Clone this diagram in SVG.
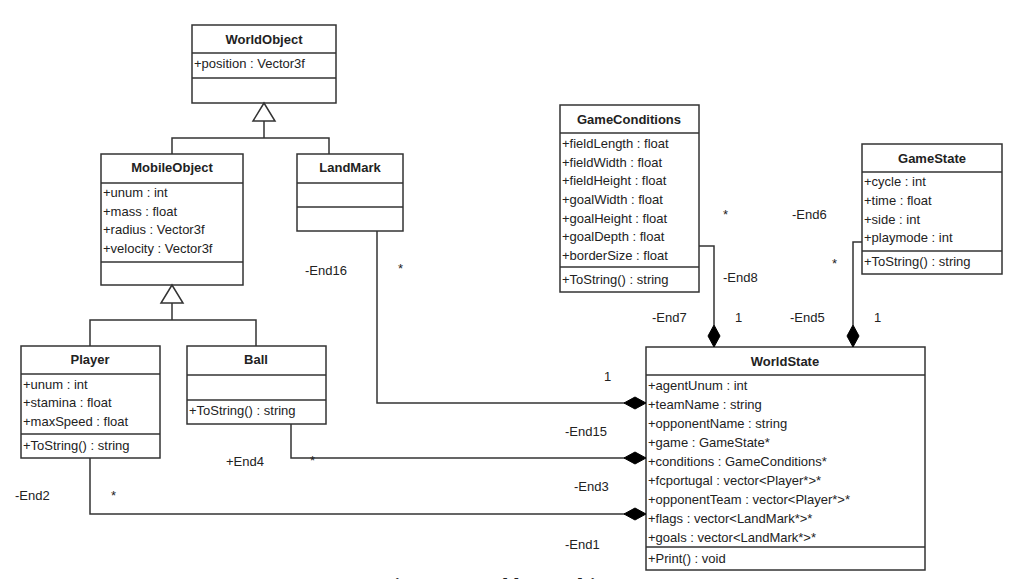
<svg xmlns="http://www.w3.org/2000/svg" width="1020" height="579" viewBox="0 0 1020 579">
<style>
rect{fill:#fff;stroke:#333;stroke-width:1.5}
line,polyline{stroke:#333;stroke-width:1.5;fill:none}
text{font-family:"Liberation Sans",Arial,sans-serif;font-size:13px;fill:#222}
.t{font-weight:bold;text-anchor:middle}
.tri{fill:#fff;stroke:#333;stroke-width:1.5}
.dia{fill:#000;stroke:#000}
.cap{font-family:"Liberation Serif",serif;font-size:20px;font-weight:bold;text-anchor:middle}
</style>
<rect x="0" y="0" width="1020" height="579" style="stroke:none"/>
<g id="WorldObject">
<rect x="192" y="25" width="144" height="78"/><line x1="192" y1="53" x2="336" y2="53"/><line x1="192" y1="78" x2="336" y2="78"/>
<text class="t" x="264" y="44">WorldObject</text><text x="194" y="68">+position : Vector3f</text>
</g>
<g id="MobileObject">
<rect x="101" y="154" width="142" height="131"/><line x1="101" y1="183" x2="243" y2="183"/><line x1="101" y1="262" x2="243" y2="262"/>
<text class="t" x="172" y="172">MobileObject</text>
<text x="103" y="197">+unum : int</text><text x="103" y="216">+mass : float</text><text x="103" y="234">+radius : Vector3f</text><text x="103" y="253">+velocity : Vector3f</text>
</g>
<g id="LandMark">
<rect x="297" y="154" width="106" height="77"/><line x1="297" y1="183" x2="403" y2="183"/><line x1="297" y1="207" x2="403" y2="207"/>
<text class="t" x="350" y="172">LandMark</text>
</g>
<g id="Player">
<rect x="21" y="346" width="139" height="112"/><line x1="21" y1="374" x2="160" y2="374"/><line x1="21" y1="434" x2="160" y2="434"/>
<text class="t" x="90" y="364">Player</text>
<text x="23" y="389">+unum : int</text><text x="23" y="407">+stamina : float</text><text x="23" y="426">+maxSpeed : float</text><text x="23" y="450">+ToString() : string</text>
</g>
<g id="Ball">
<rect x="187" y="346" width="139" height="78"/><line x1="187" y1="375" x2="326" y2="375"/><line x1="187" y1="400" x2="326" y2="400"/>
<text class="t" x="256" y="364">Ball</text><text x="189" y="415">+ToString() : string</text>
</g>
<g id="GameConditions">
<rect x="560" y="105" width="139" height="187"/><line x1="560" y1="133" x2="699" y2="133"/><line x1="560" y1="267" x2="699" y2="267"/>
<text class="t" x="629" y="124">GameConditions</text>
<text x="562" y="148">+fieldLength : float</text><text x="562" y="167">+fieldWidth : float</text><text x="562" y="185">+fieldHeight : float</text><text x="562" y="204">+goalWidth : float</text><text x="562" y="223">+goalHeight : float</text><text x="562" y="241">+goalDepth : float</text><text x="562" y="260">+borderSize : float</text>
<text x="562" y="284">+ToString() : string</text>
</g>
<g id="GameState">
<rect x="862" y="144" width="140" height="130"/><line x1="862" y1="172" x2="1002" y2="172"/><line x1="862" y1="251" x2="1002" y2="251"/>
<text class="t" x="932" y="163">GameState</text>
<text x="864" y="186">+cycle : int</text><text x="864" y="205">+time : float</text><text x="864" y="224">+side : int</text><text x="864" y="242">+playmode : int</text><text x="864" y="266">+ToString() : string</text>
</g>
<g id="WorldState">
<rect x="646" y="347" width="279" height="223"/><line x1="646" y1="375" x2="925" y2="375"/><line x1="646" y1="547" x2="925" y2="547"/>
<text class="t" x="785" y="366">WorldState</text>
<text x="648" y="390">+agentUnum : int</text><text x="648" y="409">+teamName : string</text><text x="648" y="428">+opponentName : string</text><text x="648" y="447">+game : GameState*</text><text x="648" y="466">+conditions : GameConditions*</text><text x="648" y="485">+fcportugal : vector&lt;Player*&gt;*</text><text x="648" y="504">+opponentTeam : vector&lt;Player*&gt;*</text><text x="648" y="523">+flags : vector&lt;LandMark*&gt;*</text><text x="648" y="542">+goals : vector&lt;LandMark*&gt;*</text>
<text x="648" y="563">+Print() : void</text>
</g>
<g id="connectors">
<polyline points="172,154 172,138 329,138 329,154"/><line x1="264" y1="138" x2="264" y2="121"/>
<polygon class="tri" points="264,103 253,121 275,121"/>
<polyline points="90,346 90,320 256,320 256,346"/><line x1="172" y1="320" x2="172" y2="303"/>
<polygon class="tri" points="172,285 161,303 183,303"/>
<polyline points="377,231 377,403 625,403"/><polygon class="dia" points="646,403 635,397 624,403 635,409"/>
<polyline points="291,424 291,458 625,458"/><polygon class="dia" points="646,458 635,452 624,458 635,464"/>
<polyline points="90,458 90,514 625,514"/><polygon class="dia" points="646,514 635,508 624,514 635,520"/>
<polyline points="699,246 714,246 714,325"/><polygon class="dia" points="714,347 708,336 714,325 720,336"/>
<polyline points="862,242 853,242 853,325"/><polygon class="dia" points="853,347 847,336 853,325 859,336"/>
</g>
<g id="labels">
<text x="305" y="275">-End16</text><text x="398" y="273">*</text>
<text x="604" y="381">1</text><text x="565" y="436">-End15</text><text x="574" y="491">-End3</text><text x="565" y="549">-End1</text>
<text x="226" y="466">+End4</text><text x="310" y="465">*</text>
<text x="15" y="500">-End2</text><text x="111" y="500">*</text>
<text x="723" y="219">*</text><text x="723" y="282">-End8</text><text x="652" y="322">-End7</text><text x="735" y="322">1</text>
<text x="792" y="219">-End6</text><text x="832" y="268">*</text><text x="790" y="322">-End5</text><text x="874" y="322">1</text>
</g>
<text class="cap" x="505" y="593">Figure 3: WorldState objects</text>
</svg>
